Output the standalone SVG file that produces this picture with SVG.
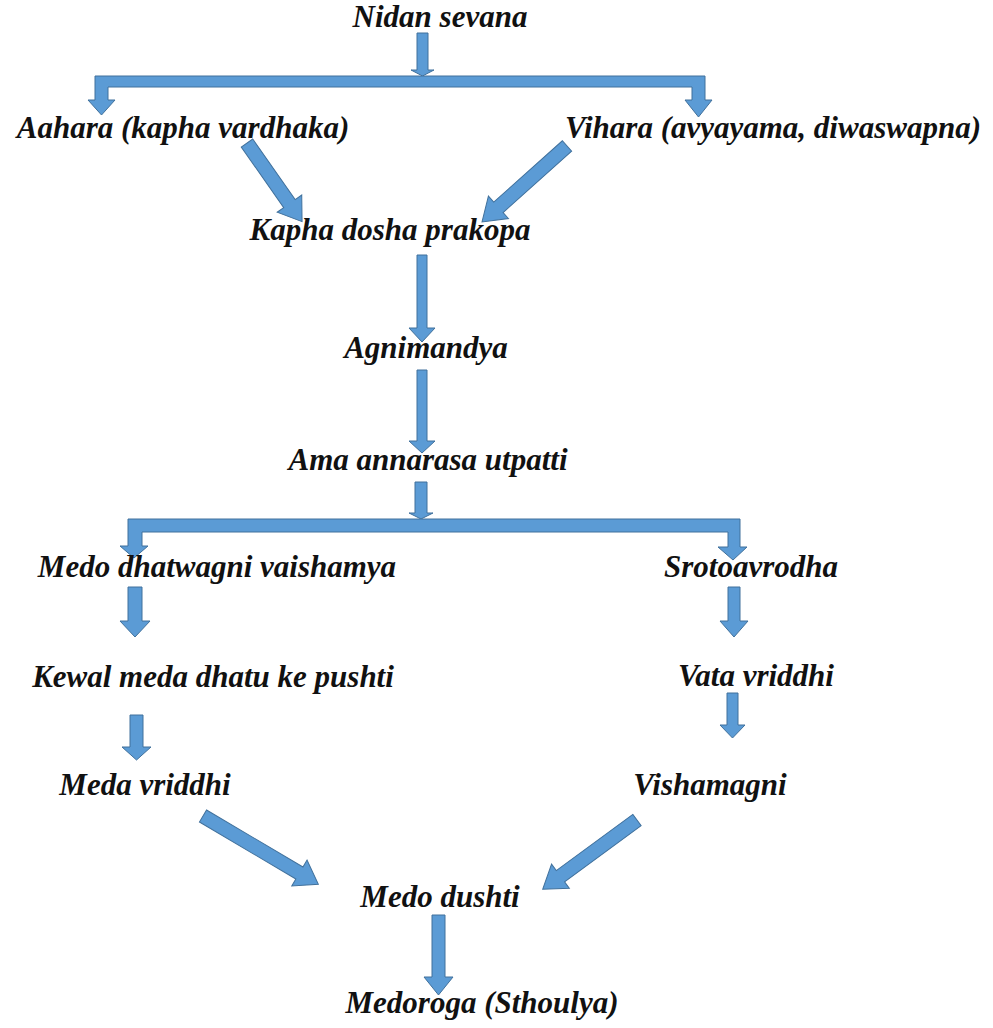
<svg xmlns="http://www.w3.org/2000/svg" width="993" height="1028" viewBox="0 0 993 1028">
<style>
.t{font-family:"Liberation Serif","Times New Roman",serif;font-weight:bold;font-style:italic;font-size:31px;fill:#111;text-anchor:middle}
.a{fill:#5B9BD5;stroke:#41719C;stroke-width:1}
</style>
<rect width="993" height="1028" fill="#fff"/>
<g id="connectors">
<path class="a" d="M417,33 L428,33 L428,70 L434,70 L422.5,76 L411,70 L417,70 Z"/>
<path class="a" d="M95,76 L705,76 L705,100 L712,100 L698.5,117 L685,100 L692,100 L692,87 L108,87 L108,100 L115,100 L101.5,115 L88,100 L95,100 Z"/>
<path class="a" d="M0,-7 L74,-7 L74,-15 L96,0 L74,15 L74,7 L0,7 Z" transform="translate(247,143) rotate(55)"/>
<path class="a" d="M0,-7 L92,-7 L92,-15 L114,0 L92,15 L92,7 L0,7 Z" transform="translate(567,146) rotate(138.2)"/>
<path class="a" d="M417,255 L427,255 L427,328 L435,328 L422,342 L409,328 L417,328 Z"/>
<path class="a" d="M417,370 L427,370 L427,441 L435,441 L422,453 L409,441 L417,441 Z"/>
<path class="a" d="M415,482 L427,482 L427,513 L433,513 L421,519 L409,513 L415,513 Z"/>
<path class="a" d="M128,519 L740,519 L740,547 L747,547 L733,560 L718,547 L728,547 L728,532 L142,532 L142,546 L148,546 L134,558 L120,546 L128,546 Z"/>
<path class="a" d="M128,587 L142,587 L142,621 L150,621 L135,637 L120,621 L128,621 Z"/>
<path class="a" d="M728,587 L740,587 L740,621 L748,621 L734,637 L720,621 L728,621 Z"/>
<path class="a" d="M130,715 L143,715 L143,747 L151,747 L136.5,760 L122,747 L130,747 Z"/>
<path class="a" d="M727,693 L738,693 L738,725 L745,725 L732.5,738 L720,725 L727,725 Z"/>
<path class="a" d="M0,-7 L112,-7 L112,-15 L134,0 L112,15 L112,7 L0,7 Z" transform="translate(203,816) rotate(30.6)"/>
<path class="a" d="M0,-7 L95,-7 L95,-15 L117,0 L95,15 L95,7 L0,7 Z" transform="translate(637,820) rotate(143.7)"/>
<path class="a" d="M432,915 L445,915 L445,977 L453,977 L438.5,995 L424,977 L432,977 Z"/>
</g>
<g id="n-nidan"><text class="t" x="440" y="27">Nidan sevana</text></g>
<g id="n-aahara"><text class="t" x="183" y="138">Aahara (kapha vardhaka)</text></g>
<g id="n-vihara"><text class="t" x="773" y="138">Vihara (avyayama, diwaswapna)</text></g>
<g id="n-kapha"><text class="t" x="390" y="240">Kapha dosha prakopa</text></g>
<g id="n-agni"><text class="t" x="426" y="358">Agnimandya</text></g>
<g id="n-ama"><text class="t" x="428" y="470">Ama annarasa utpatti</text></g>
<g id="n-medodhatu"><text class="t" x="217" y="577">Medo dhatwagni vaishamya</text></g>
<g id="n-sroto"><text class="t" x="751" y="577">Srotoavrodha</text></g>
<g id="n-kewal"><text class="t" x="213" y="687">Kewal meda dhatu ke pushti</text></g>
<g id="n-vata"><text class="t" x="756" y="686">Vata vriddhi</text></g>
<g id="n-meda"><text class="t" x="145" y="795">Meda vriddhi</text></g>
<g id="n-vishama"><text class="t" x="710" y="795">Vishamagni</text></g>
<g id="n-medodushti"><text class="t" x="440" y="907">Medo dushti</text></g>
<g id="n-medoroga"><text class="t" x="482" y="1013">Medoroga (Sthoulya)</text></g>
</svg>
